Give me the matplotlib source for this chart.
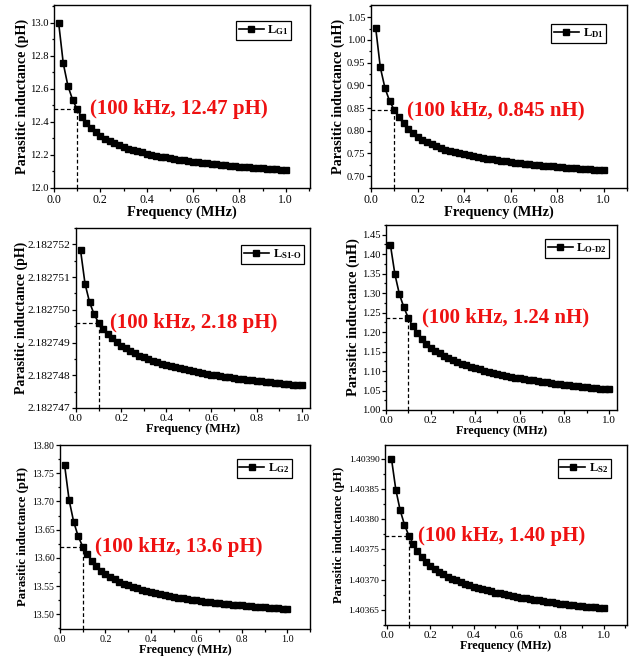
"""
Parasitic inductance vs frequency for the six loop segments (2x3 grid).
Outputs: out.png
"""
import numpy as np
import matplotlib
matplotlib.use('Agg')
import matplotlib.pyplot as plt
from matplotlib.ticker import MultipleLocator, FormatStrFormatter

plt.rcParams['font.family'] = 'Liberation Serif'
plt.rcParams['mathtext.fontset'] = 'custom'
plt.rcParams['mathtext.rm'] = 'Liberation Serif'
plt.rcParams['mathtext.bf'] = 'Liberation Serif:bold'
plt.rcParams['mathtext.it'] = 'Liberation Serif:italic'

# frequency sweep, MHz (0.02 ... 1.0)
freq = np.linspace(0.02, 1.0, 50)

L_G1 = [13.000, 12.754, 12.618, 12.535, 12.475, 12.430, 12.392, 12.363, 12.337, 12.316,
        12.298, 12.284, 12.270, 12.259, 12.248, 12.238, 12.230, 12.222, 12.215, 12.208,
        12.202, 12.196, 12.190, 12.185, 12.181, 12.176, 12.171, 12.167, 12.163, 12.160,
        12.156, 12.153, 12.149, 12.146, 12.143, 12.140, 12.138, 12.135, 12.133, 12.130,
        12.128, 12.125, 12.122, 12.121, 12.118, 12.117, 12.115, 12.113, 12.111, 12.109]

L_D1 = [1.0272, 0.9397, 0.8941, 0.8654, 0.8456, 0.8294, 0.8162, 0.8044, 0.7941, 0.7861,
        0.7798, 0.7747, 0.7700, 0.7660, 0.7622, 0.7587, 0.7559, 0.7531, 0.7506, 0.7481,
        0.7460, 0.7440, 0.7418, 0.7400, 0.7386, 0.7368, 0.7352, 0.7338, 0.7324, 0.7311,
        0.7298, 0.7286, 0.7275, 0.7264, 0.7251, 0.7242, 0.7232, 0.7223, 0.7217, 0.7207,
        0.7198, 0.7189, 0.7179, 0.7173, 0.7163, 0.7159, 0.7152, 0.7145, 0.7138, 0.7132]

L_S1O = [2.182751827, 2.182750796, 2.182750235, 2.182749867, 2.182749602,
         2.182749420, 2.182749262, 2.182749130, 2.182749012, 2.182748909,
         2.182748820, 2.182748741, 2.182748670, 2.182748603, 2.182748546,
         2.182748492, 2.182748444, 2.182748395, 2.182748355, 2.182748310,
         2.182748275, 2.182748240, 2.182748208, 2.182748177, 2.182748146,
         2.182748120, 2.182748093, 2.182748067, 2.182748040, 2.182748018,
         2.182747996, 2.182747973, 2.182747956, 2.182747933, 2.182747916,
         2.182747898, 2.182747880, 2.182747863, 2.182747845, 2.182747827,
         2.182747814, 2.182747800, 2.182747783, 2.182747769, 2.182747756,
         2.182747743, 2.182747729, 2.182747716, 2.182747707, 2.182747694]

L_OD2 = [1.4232, 1.3483, 1.2974, 1.2638, 1.2363, 1.2147, 1.1973, 1.1828, 1.1706, 1.1602,
         1.1523, 1.1453, 1.1390, 1.1331, 1.1280, 1.1233, 1.1190, 1.1147, 1.1112, 1.1073,
         1.1041, 1.1010, 1.0983, 1.0955, 1.0928, 1.0904, 1.0881, 1.0857, 1.0834, 1.0814,
         1.0794, 1.0775, 1.0759, 1.0740, 1.0724, 1.0708, 1.0693, 1.0677, 1.0661, 1.0646,
         1.0634, 1.0622, 1.0606, 1.0595, 1.0583, 1.0571, 1.0559, 1.0548, 1.0540, 1.0528]

L_G2 = [13.7652, 13.7026, 13.6642, 13.6382, 13.6199, 13.6071, 13.5947, 13.5849, 13.5770, 13.5711,
        13.5663, 13.5621, 13.5581, 13.5546, 13.5514, 13.5484, 13.5460, 13.5436, 13.5415, 13.5393,
        13.5376, 13.5358, 13.5339, 13.5325, 13.5312, 13.5296, 13.5283, 13.5271, 13.5259, 13.5248,
        13.5237, 13.5227, 13.5217, 13.5208, 13.5197, 13.5189, 13.5181, 13.5173, 13.5167, 13.5159,
        13.5151, 13.5143, 13.5135, 13.5130, 13.5122, 13.5118, 13.5112, 13.5106, 13.5100, 13.5095]

L_S2 = [1.4039000, 1.4038490, 1.4038150, 1.4037910, 1.4037730, 1.4037595, 1.4037478, 1.4037379,
        1.4037296, 1.4037228, 1.4037176, 1.4037131, 1.4037090, 1.4037051, 1.4037018, 1.4036988,
        1.4036959, 1.4036931, 1.4036908, 1.4036883, 1.4036862, 1.4036842, 1.4036824, 1.4036806,
        1.4036788, 1.4036773, 1.4036758, 1.4036742, 1.4036727, 1.4036714, 1.4036702, 1.4036689,
        1.4036679, 1.4036666, 1.4036656, 1.4036645, 1.4036635, 1.4036625, 1.4036615, 1.4036605,
        1.4036597, 1.4036589, 1.4036579, 1.4036571, 1.4036564, 1.4036556, 1.4036548, 1.4036541,
        1.4036536, 1.4036528]

legend_labels = [r'$\mathbf{L}_{\mathbf{G1}}$', r'$\mathbf{L}_{\mathbf{D1}}$',
                 '$\\mathbf{L}_{\\mathbf{S1\u2010O}}$', '$\\mathbf{L}_{\\mathbf{O\u2010D2}}$',
                 r'$\mathbf{L}_{\mathbf{G2}}$', r'$\mathbf{L}_{\mathbf{S2}}$']
notes = ['(100 kHz, 12.47 pH)', '(100 kHz, 0.845 nH)', '(100 kHz, 2.18 pH)',
         '(100 kHz, 1.24 nH)', '(100 kHz, 13.6 pH)', '(100 kHz, 1.40 pH)']
units = ['pH', 'nH', 'pH', 'nH', 'pH', 'pH']
series = [L_G1, L_D1, L_S1O, L_OD2, L_G2, L_S2]
F_MARK = 0.1  # 100 kHz marker

# layout per panel: pixel box (l, t, r, b), limits, font sizes, ylabel right-edge pixel
W, H = 629, 660
layout = [
    dict(box=(54, 5, 310, 188), ylim=(12.0, 13.107), ystep=0.2, fmt='%.1f', xlim=(0, 1.105),
         leg=(0.926, 0.913), note_x=0.154, yts=7.7, xts=8.5, lfs=10.2, xfs=10.4, ylab_px=29),
    dict(box=(371, 5, 627, 188), ylim=(0.674, 1.077), ystep=0.05, fmt='%.2f', xlim=(0, 1.1),
         leg=(0.918, 0.896), note_x=0.154, yts=7.6, xts=8.5, lfs=10.2, xfs=10.4, ylab_px=345),
    dict(box=(76, 228, 310, 408), ylim=(2.1827469999, 2.1827525), ystep=1e-6, fmt='%.6f',
         xlim=(0, 1.037), leg=(0.974, 0.906), note_x=0.15, yts=8.2, xts=8.2, lfs=10.0, xfs=8.9,
         ylab_px=28),
    dict(box=(386, 225, 617, 410), ylim=(0.99999, 1.475), ystep=0.05, fmt='%.2f', xlim=(0, 1.036),
         leg=(0.967, 0.925), note_x=0.16, yts=7.6, xts=8.0, lfs=10.4, xfs=8.6, ylab_px=360),
    dict(box=(60, 445, 310, 629), ylim=(13.474, 13.80001), ystep=0.05, fmt='%.2f', xlim=(0, 1.1),
         leg=(0.927, 0.924), note_x=0.156, yts=7.0, xts=7.2, lfs=9.2, xfs=8.7, ylab_px=29),
    dict(box=(385, 445, 627, 625), ylim=(1.403625, 1.403923), ystep=5e-5, fmt='%.5f',
         xlim=(-0.01, 1.108), leg=(0.933, 0.922), note_x=0.142, yts=6.8, xts=8.0, lfs=9.0, xfs=8.6,
         ylab_px=345),
]


def draw_panel(fig, cfg, values, label, note, unit):
    x0, y0, x1, y1 = cfg['box']
    ax = fig.add_axes([x0 / W, 1 - y1 / H, (x1 - x0) / W, (y1 - y0) / H])
    ax.plot(freq, values, '-s', color='black', lw=1.2, ms=3.8, label=label)

    ax.set_xlim(*cfg['xlim'])
    ax.set_ylim(*cfg['ylim'])
    ax.xaxis.set_major_locator(MultipleLocator(0.2))
    ax.xaxis.set_minor_locator(MultipleLocator(0.1))
    ax.xaxis.set_major_formatter(FormatStrFormatter('%.1f'))
    ax.yaxis.set_major_locator(MultipleLocator(cfg['ystep']))
    ax.yaxis.set_minor_locator(MultipleLocator(cfg['ystep'] / 2))
    ax.yaxis.set_major_formatter(FormatStrFormatter(cfg['fmt']))
    ax.tick_params(which='both', direction='out', top=False, right=False, width=0.9, pad=1)
    ax.tick_params(axis='y', labelsize=cfg['yts'])
    ax.tick_params(axis='x', labelsize=cfg['xts'])
    ax.tick_params(which='major', length=3)
    ax.tick_params(which='minor', length=1.8)
    for sp in ax.spines.values():
        sp.set_linewidth(1.0)

    # dashed guide to the 100 kHz point
    v = values[4]
    ax.plot([cfg['xlim'][0], F_MARK], [v, v], color='black', lw=0.9, dashes=(3, 2))
    ax.plot([F_MARK, F_MARK], [cfg['ylim'][0], v], color='black', lw=0.9, dashes=(3, 2))

    ax.text(cfg['note_x'], v, note, color='#ee1111', fontsize=15, fontweight='bold',
            ha='left', va='center')

    ax.set_xlabel('Frequency (MHz)', fontsize=cfg['xfs'], fontweight='bold', labelpad=0)
    ax.set_ylabel(f'Parasitic inductance ({unit})', fontsize=cfg['lfs'], fontweight='bold')
    ax.yaxis.set_label_coords((cfg['ylab_px'] - x0) / (x1 - x0), 0.5)

    leg = ax.legend(loc='upper right', bbox_to_anchor=cfg['leg'], borderaxespad=0,
                    fontsize=9, handlelength=2.0, handletextpad=0.3, borderpad=0.2,
                    fancybox=False, framealpha=1, edgecolor='black')
    leg.get_frame().set_linewidth(0.9)
    return ax


fig = plt.figure(figsize=(W / 100, H / 100), dpi=100)
for cfg, vals, lab, note, unit in zip(layout, series, legend_labels, notes, units):
    draw_panel(fig, cfg, vals, lab, note, unit)

fig.savefig('out.png', dpi=100)
print('Wrote out.png')
